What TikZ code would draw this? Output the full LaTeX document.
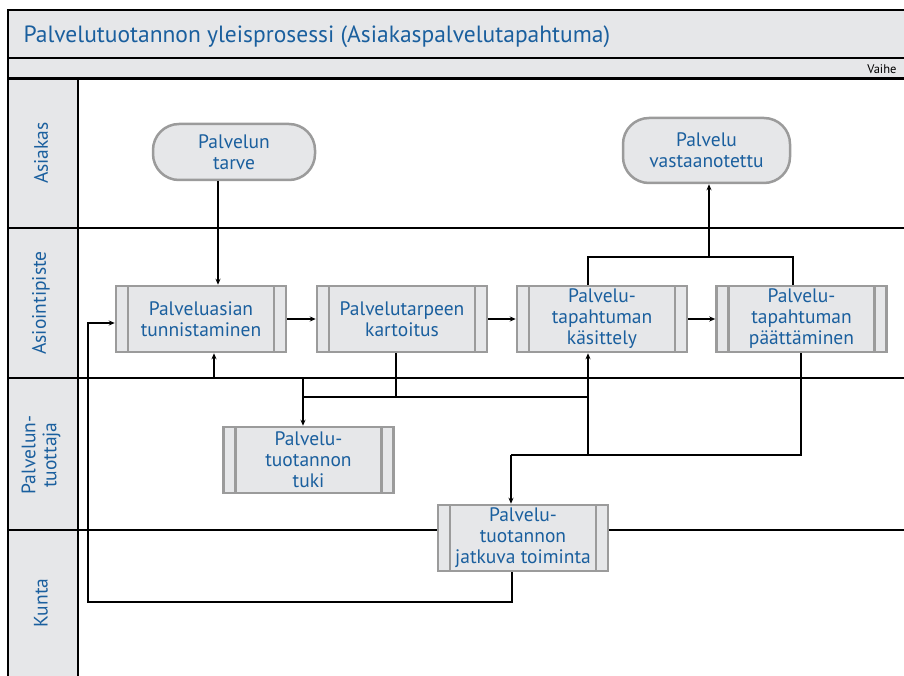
\documentclass[tikz,border=0pt]{standalone}
\usepackage{fontspec}
\setmainfont{PT Sans}
\usetikzlibrary{arrows.meta}
\definecolor{txtblue}{RGB}{26,95,158}
\definecolor{panel}{RGB}{230,231,233}
\definecolor{rim}{RGB}{155,155,155}
\begin{document}
\begin{tikzpicture}[x=1pt,y=-1pt,
  lbl/.style={text=txtblue,font=\fontsize{19.5}{21}\selectfont,align=center},
  lanelbl/.style={lbl,rotate=90,font=\fontsize{19.5}{21}\selectfont},
  subproc/.style={lbl,draw=rim,fill=panel,line width=2.5pt,
    minimum width=170pt,minimum height=66pt,inner sep=0pt,
    path picture={
      \draw[rim,line width=2.5pt]
        ([xshift=12pt]path picture bounding box.north west) --
        ([xshift=12pt]path picture bounding box.south west)
        ([xshift=-12pt]path picture bounding box.north east) --
        ([xshift=-12pt]path picture bounding box.south east);}},
  terminal/.style={lbl,draw=rim,fill=panel,line width=2.5pt,
    rounded corners=26pt,inner sep=0pt},
  wire/.style={line width=1.6pt},
  flow/.style={wire,-{Stealth[length=6pt,width=5pt]}},
  lane/.style={line width=2pt}]
\useasboundingbox (0,0) rectangle (904,676);

% header bands and lane column
\fill[panel] (8,10) rectangle (904,79);
\fill[panel] (8,79) rectangle (78,676);
\draw[line width=2.5pt] (904,10) -- (8,10) -- (8,676);
\draw[line width=2.5pt] (8,58) -- (904,58);
\draw[line width=3pt] (8,79) -- (904,79);
\draw[line width=1.5pt] (78,79) -- (78,676);
\foreach \yy in {228,378,530} \draw[lane] (8,\yy) -- (904,\yy);

\node[lbl,anchor=west,font=\fontsize{23.5}{26}\selectfont] (title) at (20,37)
  {Palvelutuotannon yleisprosessi (Asiakaspalvelutapahtuma)};
\node[anchor=east,font=\fontsize{12.5}{14}\selectfont] (phase) at (900,69) {Vaihe};

% lane names
\node[lanelbl] (l1) at (41,153) {Asiakas};
\node[lanelbl] (l2) at (41,303) {Asiointipiste};
\node[lanelbl,font=\fontsize{19.5}{21}\selectfont] (l3) at (41,455) {Palvelun-\\tuottaja};
\node[lanelbl] (l4) at (41,603) {Kunta};

% steps
\node[terminal,minimum width=162pt,minimum height=56pt] (tarve) at (234,152) {Palvelun\\tarve};
\node[terminal,minimum width=167pt,minimum height=65pt] (vast) at (706.5,150.5) {Palvelu\\vastaanotettu};
\node[subproc] (tunn) at (201,319) {Palveluasian\\tunnistaminen};
\node[subproc] (kart) at (402,319) {Palvelutarpeen\\kartoitus};
\node[subproc] (kas) at (602,319) {Palvelu-\\tapahtuman\\käsittely};
\node[subproc] (paat) at (801.5,319) {Palvelu-\\tapahtuman\\päättäminen};
\node[subproc] (tuki) at (308.5,460) {Palvelu-\\tuotannon\\tuki};
\node[subproc] (jatk) at (523,538) {Palvelu-\\tuotannon\\jatkuva toiminta};

% junction points
\coordinate (top) at (709,257);
\coordinate (kasL) at (588,257);
\coordinate (paatL) at (793,257);
\coordinate (feedA) at (214,378);
\coordinate (busL) at (303,397);
\coordinate (busR) at (588,397);
\coordinate (kartD) at (396,397);
\coordinate (tukiIn) at (303,378);
\coordinate (low) at (588,455);
\coordinate (paatD) at (801,455);
\coordinate (jatkIn) at (511,455);
\coordinate (ret) at (512,602);
\coordinate (retL) at (88,602);
\coordinate (retU) at (88,323);

% connectors
\draw[flow] ([xshift=-16pt]tarve.south) -- ([xshift=-16pt]tarve.south |- tunn.north);
\draw[flow] (tunn.east) -- (kart.west);
\draw[flow] (kart.east) -- (kas.west);
\draw[flow] (kas.east) -- (paat.west);
\draw[wire] (kasL |- kas.north) -- (kasL) -- (paatL) -- (paatL |- paat.north);
\draw[flow] (top) -- (top |- vast.south);
\draw[flow] (feedA) -- (feedA |- tunn.south);
\draw[wire] (kartD |- kart.south) -- (kartD);
\draw[wire] (busL) -- (busR);
\draw[flow] (tukiIn) -- (tukiIn |- tuki.north);
\draw[flow] (low) -- (low |- kas.south);
\draw[wire] (paatD |- paat.south) -- (paatD) -- (jatkIn);
\draw[flow] (jatkIn) -- (jatkIn |- jatk.north);
\draw[flow] (ret |- jatk.south) -- (ret) -- (retL) -- (retU) -- (retU -| tunn.west);
\end{tikzpicture}
\end{document}
